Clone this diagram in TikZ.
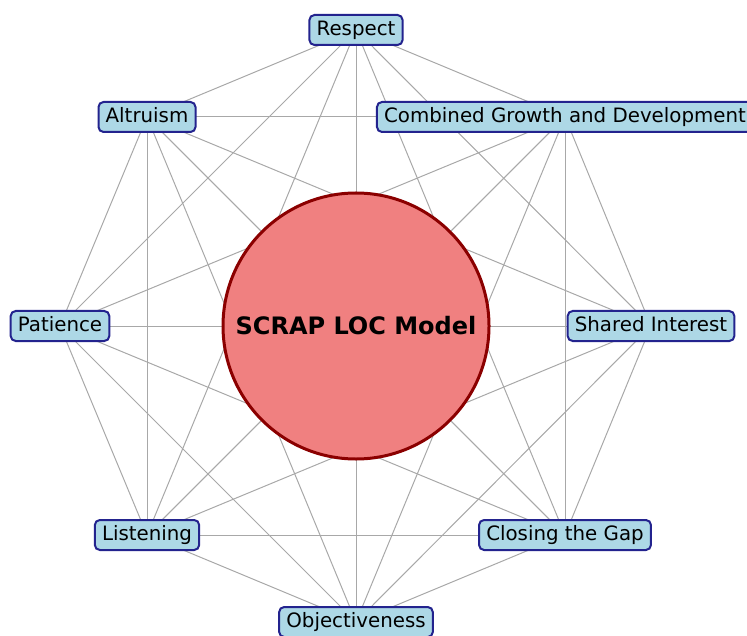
\documentclass[tikz,border=0pt]{standalone}
\usepackage{fontspec}
\setmainfont{DejaVu Sans}
\usetikzlibrary{backgrounds}
\definecolor{boxfill}{HTML}{ADD8E6}
\definecolor{boxedge}{HTML}{23238E}
\definecolor{corefill}{HTML}{F08080}
\definecolor{coreedge}{HTML}{8B0000}
\definecolor{linkgray}{HTML}{A8A8A8}
\begin{document}
\begin{tikzpicture}[x=0.5pt,y=-0.5pt,
  concept/.style={draw=boxedge, fill=boxfill, line width=1pt, rounded corners=2.5pt,
    inner xsep=3.6pt, inner ysep=2.5pt, text height=7.6pt, text depth=2.4pt,
    font=\fontsize{9.9}{11.5}\selectfont},
  core/.style={circle, draw=coreedge, fill=corefill, line width=1.5pt,
    minimum size=133pt, inner sep=0pt, font=\fontsize{12}{14}\selectfont\bfseries},
  link/.style={draw=linkgray, line width=0.5pt}]
\useasboundingbox (0,0) rectangle (747,635);
\node[core] (m) at (356,326) {SCRAP LOC Model};
\node[concept] (n1) at (356,30) {Respect};
\node[concept] (n2) at (565,117) {Combined Growth and Development};
\node[concept] (n3) at (651,326) {Shared Interest};
\node[concept] (n4) at (565,535) {Closing the Gap};
\node[concept] (n5) at (356,622) {Objectiveness};
\node[concept] (n6) at (147,535) {Listening};
\node[concept] (n7) at (60,326) {Patience};
\node[concept] (n8) at (147,117) {Altruism};
\begin{pgfonlayer}{background}
  \foreach \a in {1,...,8} {
    \draw[link] (m.center) -- (n\a.center);
  }
  \foreach \a in {1,...,7} {
    \pgfmathtruncatemacro{\s}{\a+1}
    \foreach \b in {\s,...,8} {
      \draw[link] (n\a.center) -- (n\b.center);
    }
  }
\end{pgfonlayer}
\end{tikzpicture}
\end{document}
